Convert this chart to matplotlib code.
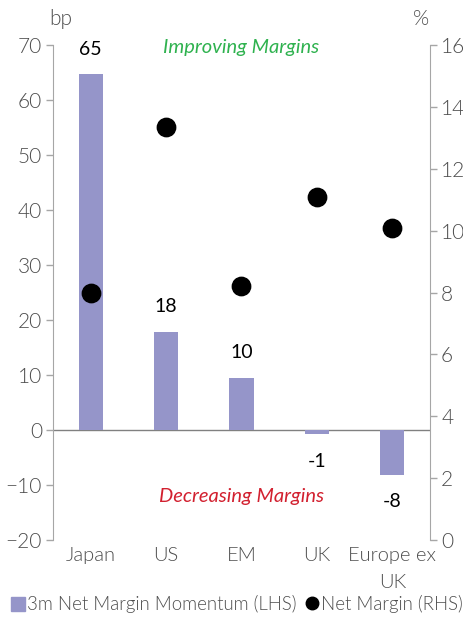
import numpy as np
import matplotlib.pyplot as plt
from matplotlib.lines import Line2D
from matplotlib.patches import Patch

plt.rcParams['font.family'] = ['Lato', 'DejaVu Sans']

regions = ['Japan', 'US', 'EM', 'UK', 'Europe ex\nUK']
momentum = [64.7, 17.9, 9.5, -0.8, -8.2]      # bp, LHS
net_margin = [8.0, 13.35, 8.2, 11.1, 10.1]     # %, RHS

bar_col = '#9595c9'
grey = '#4d4d4d'
spine_col = '#a6a6a6'
LIGHT = 300

fig = plt.figure(figsize=(4.64, 6.17), dpi=100)
ax = fig.add_axes([0.1142, 0.1248, 0.8125, 0.8022])
ax2 = ax.twinx()

x = np.arange(len(regions))
ax.bar(x, momentum, width=0.32, color=bar_col, zorder=2)
ax.axhline(0, color='#808080', lw=1, zorder=1)
for xi, v in zip(x, momentum):
    if v >= 0:
        ax.text(xi, v + 3, f'{v:.0f}', ha='center', va='bottom', fontsize=14, color='black')
    else:
        ax.text(xi, v - 3.3, f'{v:.0f}', ha='center', va='top', fontsize=14, color='black')

ax2.scatter(x, net_margin, s=175, color='black', zorder=3)

ax.set_xlim(-0.5, 4.5)
ax.set_ylim(-20, 70)
ax.set_yticks(np.arange(-20, 71, 10))
ax2.set_ylim(0, 16)
ax2.set_yticks(np.arange(0, 17, 2))

for a in (ax, ax2):
    for s in ('top', 'bottom'):
        a.spines[s].set_visible(False)
    a.tick_params(axis='y', color=spine_col, labelsize=15, length=5, width=1, pad=3)
ax.spines['right'].set_visible(False)
ax2.spines['left'].set_visible(False)
ax.spines['left'].set_color(spine_col)
ax2.spines['right'].set_color(spine_col)
for lab in ax.get_yticklabels() + ax2.get_yticklabels():
    lab.set_fontweight(LIGHT)
    lab.set_color(grey)

ax.set_xticks(x)
ax.set_xticklabels(regions, fontsize=14.5, color=grey, fontweight=LIGHT, linespacing=1.75)
ax.tick_params(axis='x', length=0, pad=5)

fig.text(0.13, 0.97, 'bp', fontsize=15, color=grey, fontweight=LIGHT, ha='center', va='center')
fig.text(0.907, 0.97, '%', fontsize=15, color=grey, fontweight=LIGHT, ha='center', va='center')

ax.text(2, 69.6, 'Improving Margins', ha='center', va='center', fontsize=14.5,
        style='italic', color='#2fb24f')
ax.text(2, -12, 'Decreasing Margins', ha='center', va='center', fontsize=14.5,
        style='italic', color='#d2202f')

handles = [Patch(color=bar_col),
           Line2D([], [], marker='o', color='black', linestyle='none', markersize=9)]
leg = fig.legend(handles, ['3m Net Margin Momentum (LHS)', 'Net Margin (RHS)'],
                 loc='lower left', bbox_to_anchor=(0.0, -0.012), ncol=2, frameon=False,
                 handlelength=0.75, handleheight=0.8, handletextpad=0.1,
                 columnspacing=0.45, borderaxespad=0.2, prop={'weight': LIGHT, 'size': 13.4})
for t in leg.get_texts():
    t.set_color(grey)

fig.savefig('out.png', dpi=100)
